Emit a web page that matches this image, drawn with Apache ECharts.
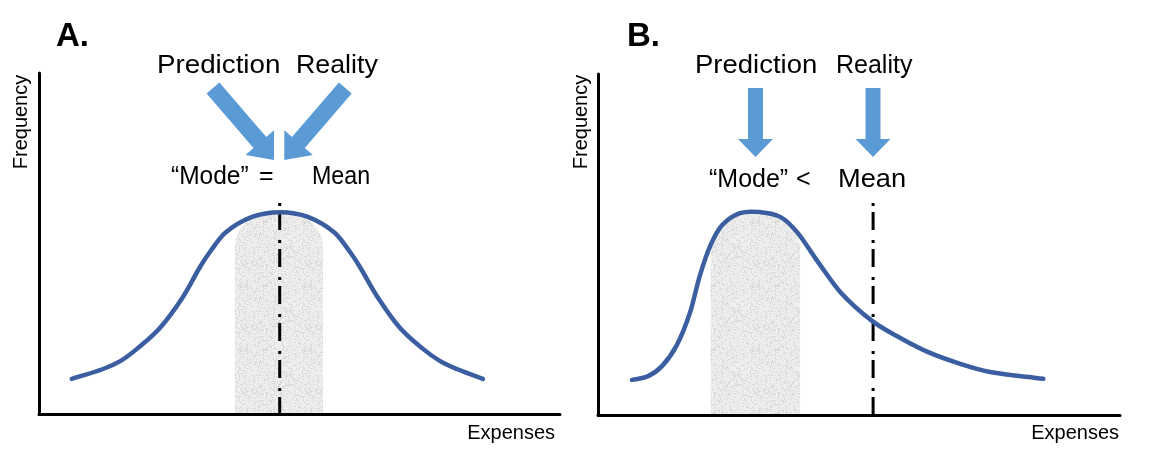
<!DOCTYPE html>
<html>
<head>
<meta charset="utf-8">
<script src="https://cdn.jsdelivr.net/npm/echarts@6/dist/echarts.min.js"></script>
<style>
  html, body { margin: 0; padding: 0; background: #ffffff; }
  #chart { width: 1153px; height: 459px; }
</style>
</head>
<body>
<div id="chart"></div>
<script>
// ---- Data (axes are unitless 0..100) ----
const panelTitles = ['A.', 'B.'];
const xAxisName = 'Expenses';
const yAxisName = 'Frequency';
const topLabels = ['Prediction', 'Reality'];
const compareLabelsA = ['\u201CMode\u201D', '=', 'Mean'];
const compareLabelsB = ['\u201CMode\u201D', '<', 'Mean'];

// Panel A: symmetric distribution
const curveAx = [6.3, 12.3, 15.6, 18.8, 23.2, 27.5, 30.9, 32.8, 35.7, 40.9, 46.3, 51.6, 56.8, 59.7, 61.6, 65.1, 69.3, 73.7, 77.0, 80.2, 85.2];
const curveAy = [10.3, 13.2, 15.5, 19.1, 25.2, 34.0, 43.1, 47.5, 53.1, 57.8, 59.2, 57.8, 53.1, 47.5, 43.1, 34.0, 25.2, 19.1, 15.5, 13.2, 10.3];

// Panel B: right-skewed distribution
const curveBx = [6.5, 9.6, 12.3, 15.1, 17.6, 19.5, 21.5, 23.8, 27.2, 31.0, 34.9, 38.1, 42.0, 46.4, 52.5, 57.9, 63.6, 69.4, 75.1, 85.3];
const curveBy = [10.3, 11.4, 14.4, 20.5, 29.9, 40.8, 49.6, 55.7, 59.2, 59.5, 58.1, 53.7, 45.2, 36.1, 27.6, 22.6, 18.2, 15.0, 12.6, 10.6];

// Shaded "mode" band: [start, end, top]
const bandA = [37.6, 54.5, 58.4];
const bandB = [21.6, 38.7, 58.7];

// Mean lines: [x, top]
const meanA = [46.2, 61.9];
const meanB = [52.7, 62.2];

// ---- Styles ----
const CURVE = '#3b5ea1';
const ARROW = '#5b9bd5';
const FONT = '"Liberation Sans", Arial, Helvetica, sans-serif';

function pairs(xs, ys) { return xs.map((x, i) => [x, ys[i]]); }

// stippled light-grey texture (deterministic hash, purely decorative)
function makeStipple() {
  const size = 64;
  const c = document.createElement('canvas');
  c.width = size; c.height = size;
  const ctx = c.getContext('2d');
  const img = ctx.createImageData(size, size);
  let s = 987654321;
  for (let i = 0; i < size * size; i++) {
    s = (Math.imul(s, 1103515245) + 12345) >>> 0;
    const r1 = (s >>> 8) % 100;
    const r2 = (s >>> 18) % 16;
    const v = 241 - (r1 < 22 ? 18 + r2 : r2 % 8);
    img.data[i * 4] = v; img.data[i * 4 + 1] = v; img.data[i * 4 + 2] = v; img.data[i * 4 + 3] = 255;
  }
  ctx.putImageData(img, 0, 0);
  return c;
}
const stipple = makeStipple();

const chart = echarts.init(document.getElementById('chart'), null, { renderer: 'canvas' });

function axisCfg(idx) {
  return {
    type: 'value', gridIndex: idx, min: 0, max: 100, z: 10,
    axisLine: { show: true, onZero: false, lineStyle: { color: '#000', width: 3 } },
    axisTick: { show: false }, axisLabel: { show: false }, splitLine: { show: false }
  };
}

function bandSeries(idx, band) {
  return {
    type: 'custom', xAxisIndex: idx, yAxisIndex: idx, z: 1, silent: true,
    data: [band],
    renderItem: function (params, api) {
      const p0 = api.coord([api.value(0), api.value(2)]);
      const p1 = api.coord([api.value(1), 0]);
      return {
        type: 'rect',
        shape: { x: p0[0], y: p0[1], width: p1[0] - p0[0], height: p1[1] - p0[1], r: [32, 32, 0, 0] },
        style: { fill: { image: stipple, repeat: 'repeat' } }
      };
    }
  };
}

// Smooth curve through the data points (Hermite spline in pixel space, via api.coord)
function curveSeries(idx, xs, ys) {
  const pts = pairs(xs, ys);
  return {
    type: 'custom', xAxisIndex: idx, yAxisIndex: idx, z: 4, silent: true,
    data: pts,
    encode: { x: 0, y: 1 },
    renderItem: function (params, api) {
      if (params.dataIndex !== 0) return null;
      const P = pts.map(p => api.coord(p));
      const n = P.length;
      const m = [];
      for (let i = 0; i < n; i++) {
        const a = P[Math.max(0, i - 1)], b = P[Math.min(n - 1, i + 1)];
        m.push((b[1] - a[1]) / (b[0] - a[0]));
      }
      let d = 'M' + P[0][0] + ' ' + P[0][1];
      for (let i = 0; i < n - 1; i++) {
        const dx = (P[i + 1][0] - P[i][0]) / 3;
        d += ' C' + (P[i][0] + dx) + ' ' + (P[i][1] + m[i] * dx) + ' ' +
          (P[i + 1][0] - dx) + ' ' + (P[i + 1][1] - m[i + 1] * dx) + ' ' +
          P[i + 1][0] + ' ' + P[i + 1][1];
      }
      return {
        type: 'path',
        shape: { pathData: d },
        style: { fill: null, stroke: CURVE, lineWidth: 4.5, lineCap: 'round', lineJoin: 'round' }
      };
    }
  };
}
function meanSeries(idx, m) {
  return {
    type: 'line', xAxisIndex: idx, yAxisIndex: idx, z: 3, silent: true,
    data: [[m[0], m[1]], [m[0], 0]], symbol: 'none',
    lineStyle: { color: '#000', width: 3, type: [3, 6, 18, 10], dashOffset: 0 }
  };
}

function txt(text, x, y, size, opts) {
  opts = opts || {};
  return {
    type: 'text', x: x, y: y, z: 20,
    rotation: opts.rotation || 0,
    scaleX: opts.scaleX || 1,
    style: {
      text: text, fill: '#000', font: (opts.weight || 'normal') + ' ' + size + 'px ' + FONT,
      align: opts.align || 'left', verticalAlign: 'middle'
    }
  };
}
function poly(points) {
  return { type: 'polygon', z: 15, shape: { points: points }, style: { fill: ARROW } };
}
function downArrow(cx, top, headTop, tip, shaftHalf, headHalf) {
  return poly([[cx - shaftHalf, top], [cx + shaftHalf, top], [cx + shaftHalf, headTop],
    [cx + headHalf, headTop], [cx, tip], [cx - headHalf, headTop], [cx - shaftHalf, headTop]]);
}

const graphics = [
  // Panel titles
  txt(panelTitles[0], 56, 37, 33, { weight: 'bold' }),
  txt(panelTitles[1], 627, 37, 33, { weight: 'bold' }),
  // Top labels A
  txt(topLabels[0], 157, 66, 25, { scaleX: 1.11 }),
  txt(topLabels[1], 296, 66, 25, { scaleX: 1.07 }),
  // Top labels B
  txt(topLabels[0], 695, 66, 25, { scaleX: 1.10 }),
  txt(topLabels[1], 836, 66, 25, { scaleX: 1.0 }),
  // Comparison line A
  txt(compareLabelsA[0], 171, 177, 25, { scaleX: 0.98 }),
  txt(compareLabelsA[1], 259, 177, 25),
  txt(compareLabelsA[2], 312, 177, 25, { scaleX: 0.93 }),
  // Comparison line B
  txt(compareLabelsB[0], 709, 180, 25, { scaleX: 1.0 }),
  txt(compareLabelsB[1], 796, 180, 25),
  txt(compareLabelsB[2], 838, 180, 25, { scaleX: 1.09 }),
  // Axis names
  txt(xAxisName, 555, 433.5, 20, { align: 'right' }),
  txt(xAxisName, 1119, 433.5, 20, { align: 'right' }),
  txt(yAxisName, 21, 122, 20, { align: 'center', rotation: Math.PI / 2 }),
  txt(yAxisName, 581, 122, 20, { align: 'center', rotation: Math.PI / 2 }),
  // Arrows A (diagonal, converging, clipped at the centre gap)
  poly([[206.6, 93.5], [219.4, 82.5], [266.3, 137], [274, 130.3], [274, 160], [245.5, 154.9], [253.5, 148]]),
  poly([[351.7, 93.5], [338.9, 82.5], [292, 137], [284.3, 130.3], [284.3, 160], [312.8, 154.9], [304.8, 148]]),
  // Arrows B (vertical)
  downArrow(755.5, 88, 139, 157, 7.5, 17.5),
  downArrow(873, 88, 139, 157, 7.5, 17.5)
];

const option = {
  backgroundColor: '#ffffff',
  animation: false,
  grid: [
    { left: 39, top: 73, width: 521, height: 341 },
    { left: 598, top: 74, width: 522, height: 341 }
  ],
  xAxis: [axisCfg(0), axisCfg(1)],
  yAxis: [axisCfg(0), axisCfg(1)],
  series: [
    bandSeries(0, bandA), meanSeries(0, meanA), curveSeries(0, curveAx, curveAy),
    bandSeries(1, bandB), meanSeries(1, meanB), curveSeries(1, curveBx, curveBy)
  ],
  graphic: graphics
};
chart.setOption(option);
</script>
</body>
</html>
